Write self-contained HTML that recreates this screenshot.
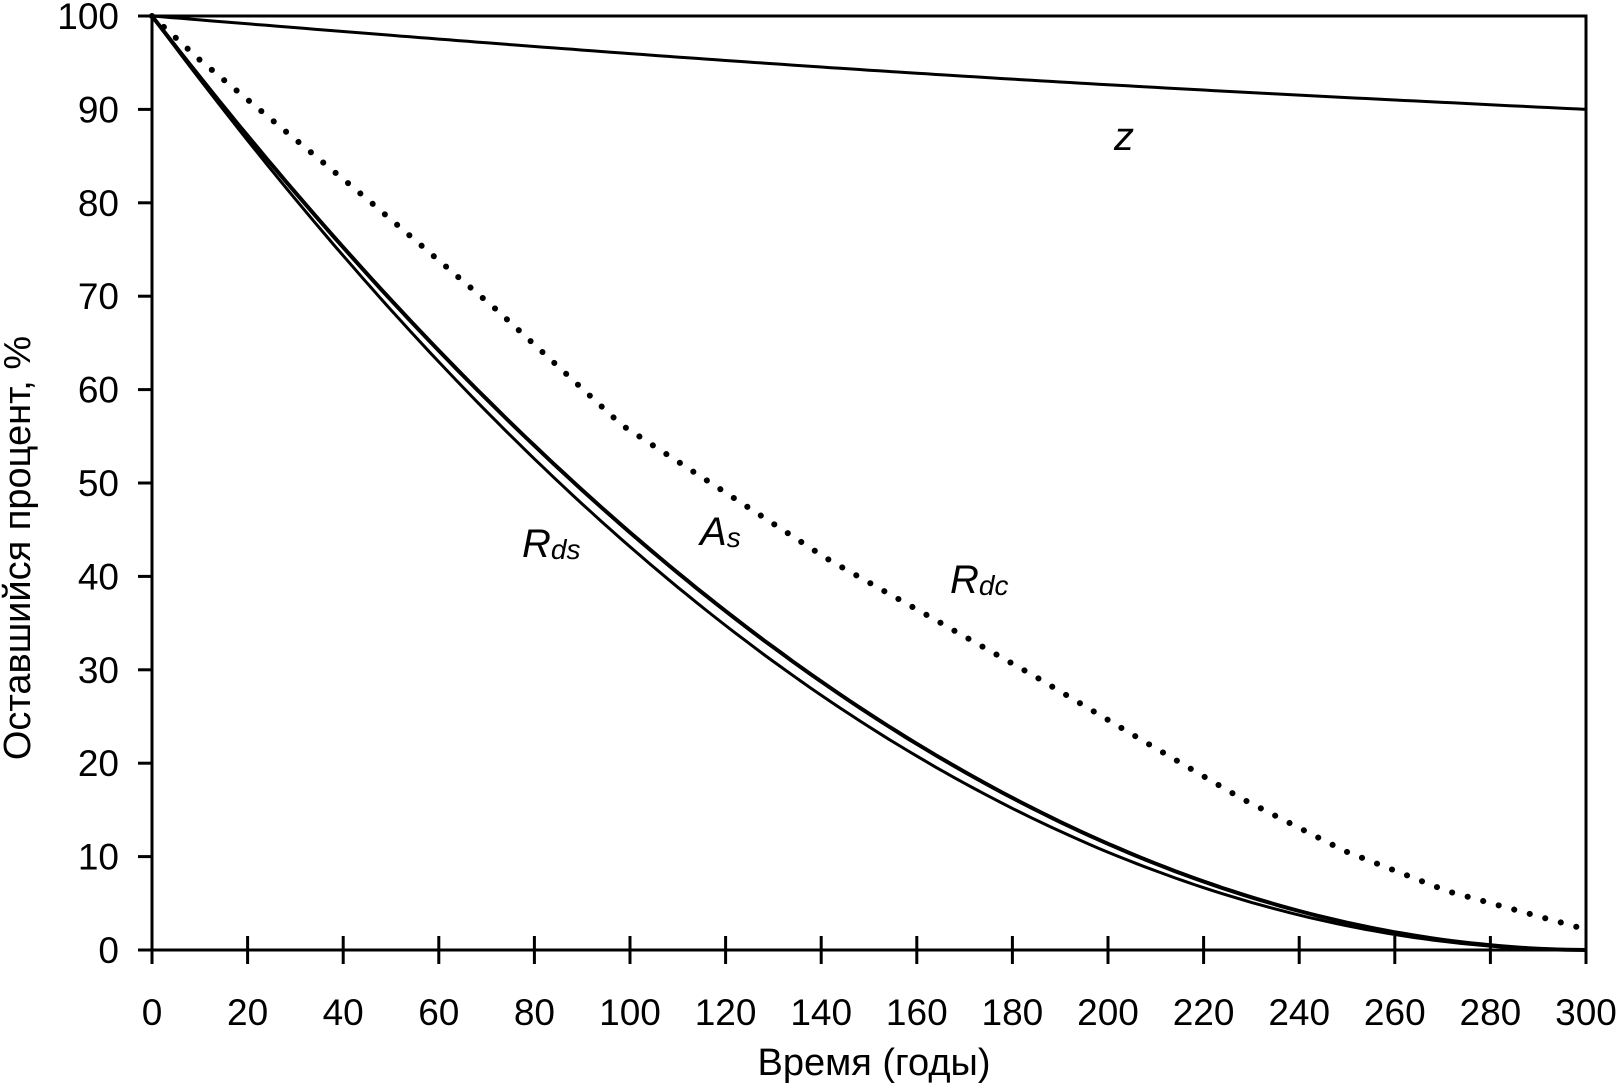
<!DOCTYPE html>
<html><head><meta charset="utf-8"><style>
html,body{margin:0;padding:0;background:#fff}
svg{display:block}
text{font-family:"Liberation Sans",Arial,sans-serif;fill:#000}
</style></head><body>
<svg id="s" width="1621" height="1083" viewBox="0 0 1621 1083" xmlns="http://www.w3.org/2000/svg">
<g id="g"></g>
<text x="874" y="1075" font-size="38" text-anchor="middle">Время (годы)</text>
<text transform="translate(30,548) rotate(-90)" font-size="38" text-anchor="middle">Оставшийся процент, %</text>
<text x="1114" y="150" font-size="40" font-style="italic">z</text>
<text x="522" y="557" font-size="40" font-style="italic">R<tspan font-size="28" dy="2">ds</tspan></text>
<text x="700" y="545" font-size="40" font-style="italic">A<tspan font-size="28" dy="2">s</tspan></text>
<text x="950" y="593" font-size="40" font-style="italic">R<tspan font-size="28" dy="2">dc</tspan></text>
</svg>
<script>
var X0=152,X1=1586,Y0=950,Y1=16;
function px(t){return X0+(X1-X0)*t/300}
function py(v){return Y0-(Y0-Y1)*v/100}
var g=document.getElementById('g'),h='';
h+='<rect x="'+X0+'" y="'+Y1+'" width="'+(X1-X0)+'" height="'+(Y0-Y1)+'" fill="none" stroke="#000" stroke-width="3"/>';
for(var i=0;i<=10;i++){var y=py(i*10);h+='<line x1="'+(X0-14)+'" x2="'+X0+'" y1="'+y+'" y2="'+y+'" stroke="#000" stroke-width="3"/>';
h+='<text x="119" y="'+(y+13)+'" font-size="37" text-anchor="end">'+(i*10)+'</text>';}
for(var i=0;i<=15;i++){var x=px(i*20);h+='<line x1="'+x+'" x2="'+x+'" y1="'+(Y0-14)+'" y2="'+(Y0+14)+'" stroke="#000" stroke-width="3"/>';
h+='<text x="'+x+'" y="1025" font-size="37" text-anchor="middle">'+(i*20)+'</text>';}
function path(f){var d='';for(var t=0;t<=300;t+=2){d+=(t?'L':'M')+px(t).toFixed(1)+','+py(f(t)).toFixed(1);}return d;}
h+='<path d="'+path(function(t){return 100-10*t/300-0.8*Math.sin(Math.PI*t/300)})+'" fill="none" stroke="#000" stroke-width="3"/>';
h+='<path d="'+path(function(t){var u=1-t/300;return 100*u*u+0.3*Math.sin(Math.PI*t/300)})+'" fill="none" stroke="#000" stroke-width="4"/>';
h+='<path d="'+path(function(t){var u=1-t/300;return 100*u*u-2.2*Math.sin(Math.PI*t/300)*u})+'" fill="none" stroke="#000" stroke-width="3"/>';
var pts=[[0,100],[10,95.3],[44.3,80.7],[72.4,68.4],[98.3,56.2],[119.9,49],[141.5,41.8],[163,35.6],[184.7,29.3],[206,22.8],[228,16.2],[249.5,10.6],[271,6.3],[300,2.2]];
function rdc(t){for(var i=0;i<pts.length-1;i++){if(t<=pts[i+1][0]){var a=pts[i],b=pts[i+1],f=(t-a[0])/(b[0]-a[0]);return a[1]+(b[1]-a[1])*f;}}return 2;}
var d='';for(var t=0;t<=300;t+=1){d+=(t?'L':'M')+px(t).toFixed(1)+','+py(rdc(t)).toFixed(1);}
h+='<path d="'+d+'" fill="none" stroke="#000" stroke-width="6" stroke-linecap="round" stroke-dasharray="0.1 16"/>';
g.innerHTML=h;
</script>
</body></html>
